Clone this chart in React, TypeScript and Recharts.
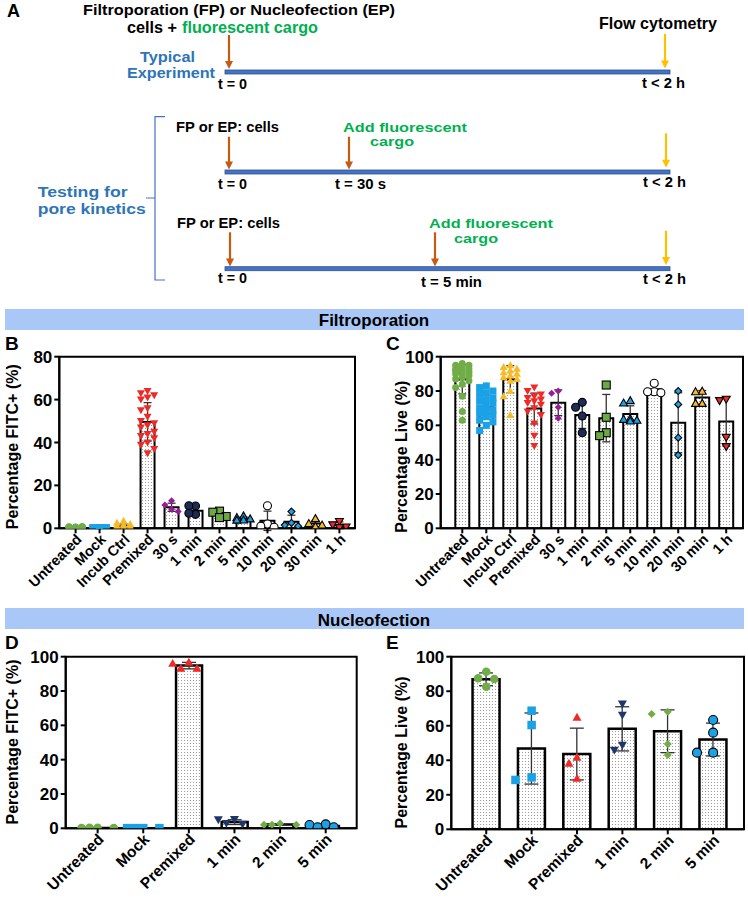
import React from 'react';
import { ComposedChart, Bar, Scatter, XAxis, YAxis, ErrorBar, ReferenceArea } from 'recharts';

const FONT = '"Liberation Sans", Arial, Helvetica, sans-serif';
const NARROW = '"Liberation Sans Narrow", "Liberation Sans", Arial, sans-serif';

// ---------- Filtroporation (panels B, C) ----------
const fpCategories = ['Untreated', 'Mock', 'Incub Ctrl', 'Premixed', '30 s', '1 min', '2 min', '5 min', '10 min', '20 min', '30 min', '1 h'];

const fpFitcMean = [0.4, 0.2, 1.1, 49.6, 9.8, 8.2, 6.5, 4.6, 3.5, 3.1, 2.2, 1.4];
const fpFitcSd = [0.3, 0.1, 0.9, 9.0, 1.9, 2.4, 1.6, 0.8, 4.5, 3.0, 1.4, 1.6];
const fpFitcPoints: number[][] = [
  [0.6, 0.4, 0.8, 0.3, 0.5, 0.2, 0.7, 0.4, 0.1, 0.6, 0.3, 0.5, 0.2, 0.4, 0.6, 0.3, 0.1, 0.5, 0.2, 0.4],
  [0.2, 0.1, 0.3, 0.2, 0.1, 0.2, 0.3, 0.1, 0.2, 0.1, 0.2, 0.3, 0.1, 0.2, 0.1, 0.2, 0.1, 0.3, 0.2, 0.1],
  [3.5, 2.6, 2.0, 1.6, 1.2, 1.0, 0.8, 0.6, 0.5, 0.4, 0.3, 0.3, 0.2],
  [64, 63, 62, 61, 60, 56, 55, 52, 50, 49, 48, 47, 45, 44, 43, 42, 40, 39, 37, 35],
  [12.8, 10.9, 8.9, 7.8],
  [10.4, 10.5, 6.5, 7.0],
  [8.0, 7.5, 5.5, 5.0],
  [5.8, 5.0, 4.4, 3.9, 3.8],
  [10.5, 2.0, 1.0, 0.5],
  [7.8, 2.5, 1.5, 1.0],
  [4.5, 2.2, 1.5, 0.8],
  [3.2, 1.6, 0.6, 0.3],
];

const fpLiveMean = [86.8, 70.5, 86.8, 69.8, 73.2, 66.0, 64.2, 66.6, 81.0, 61.5, 76.2, 62.2];
const fpLiveSd = [8.5, 7.0, 8.0, 9.0, 7.5, 7.8, 13.8, 4.8, 2.3, 17.5, 4.1, 14.3];
const fpLivePoints: number[][] = [
  [96, 95, 95, 94, 93, 93, 92, 92, 91, 90, 90, 89, 88, 87, 86, 84, 82, 77, 68, 63],
  [83, 82, 80, 79, 78, 76, 75, 74, 73, 71, 70, 69, 68, 67, 66, 65, 63, 62, 60, 57],
  [95, 94, 93, 92, 91, 90, 89, 88, 87, 86, 80, 77, 66],
  [82, 80, 78, 77, 76, 75, 74, 73, 72, 70, 68, 66, 61, 54, 48],
  [80.0, 78.7, 70.5, 64.1],
  [73.4, 70.5, 65.4, 55.7],
  [83.5, 64.7, 55.7, 54.0],
  [74.4, 73.0, 64.0, 63.5, 63.0, 62.5],
  [84.5, 79.6, 79.6, 79.0],
  [80.0, 72.2, 52.8, 42.7],
  [79.9, 79.6, 72.8, 72.8],
  [75.2, 74.4, 53.0, 47.6],
];

// ---------- Nucleofection (panels D, E) ----------
const nfCategories = ['Untreated', 'Mock', 'Premixed', '1 min', '2 min', '5 min'];

const nfFitcMean = [0.2, 0.1, 94.8, 3.6, 2.2, 1.4];
const nfFitcSd = [0.1, 0.05, 1.9, 1.4, 0.4, 0.9];
const nfFitcPoints: number[][] = [
  [0.3, 0.2, 0.2, 0.3],
  [0.1, 0.1, 0.1, 0.1],
  [96.7, 96.1, 93.2, 93.2],
  [5.2, 5.0, 2.9, 2.4],
  [2.8, 2.0, 2.0, 2.0],
  [2.3, 1.9, 0.6, 0.6],
];

const nfLiveMean = [86.9, 46.8, 43.6, 58.2, 56.8, 52.0];
const nfLiveSd = [3.7, 20.6, 15.0, 12.8, 12.4, 9.5];
const nfLivePoints: number[][] = [
  [91.3, 87.5, 87.1, 82.6],
  [68.7, 60.4, 30.1, 28.6],
  [64.9, 41.7, 38.2, 29.5],
  [72.6, 66.2, 48.8, 45.9],
  [68.1, 66.8, 49.4, 43.0],
  [63.3, 56.0, 44.4, 44.4],
];

type Shape = 'circle' | 'square' | 'triUp' | 'triDown' | 'diamond';
type MarkerSpec = { shape: Shape; fill: string; stroke?: string; size: number };

const GREEN = '#70ad47';
const BLUE = '#1ba1e6';
const YELLOW = '#f6bb2a';
const RED = '#ee2a27';
const NAVY = '#1c2c55';

const fpMarkers: MarkerSpec[] = [
  { shape: 'circle', fill: GREEN, size: 7 },
  { shape: 'square', fill: BLUE, size: 7 },
  { shape: 'triUp', fill: YELLOW, size: 8 },
  { shape: 'triDown', fill: RED, size: 8 },
  { shape: 'diamond', fill: '#981c98', size: 7 },
  { shape: 'circle', fill: NAVY, stroke: '#000', size: 8 },
  { shape: 'square', fill: '#6aa944', stroke: '#000', size: 8 },
  { shape: 'triUp', fill: BLUE, stroke: '#000', size: 8 },
  { shape: 'circle', fill: '#fff', stroke: '#000', size: 8 },
  { shape: 'diamond', fill: BLUE, stroke: '#000', size: 7 },
  { shape: 'triUp', fill: YELLOW, stroke: '#000', size: 8 },
  { shape: 'triDown', fill: RED, stroke: '#000', size: 8 },
];

const nfMarkers: MarkerSpec[] = [
  { shape: 'circle', fill: GREEN, size: 8.5 },
  { shape: 'square', fill: BLUE, size: 8.5 },
  { shape: 'triUp', fill: RED, size: 9 },
  { shape: 'triDown', fill: '#1f3768', size: 9 },
  { shape: 'diamond', fill: GREEN, size: 8 },
  { shape: 'circle', fill: BLUE, stroke: '#000', size: 9 },
];

function Marker({ cx, cy, spec }: { cx: number; cy: number; spec: MarkerSpec }) {
  if (cx == null || cy == null || isNaN(cx) || isNaN(cy)) return null;
  const s = spec.size;
  const h = s / 2;
  const common = {
    fill: spec.fill,
    stroke: spec.stroke ?? 'none',
    strokeWidth: spec.stroke ? 1.1 : 0,
  };
  switch (spec.shape) {
    case 'circle':
      return <circle cx={cx} cy={cy} r={h} {...common} />;
    case 'square':
      return <rect x={cx - h} y={cy - h} width={s} height={s} {...common} />;
    case 'triUp':
      return <polygon points={`${cx},${cy - h} ${cx + h},${cy + h * 0.75} ${cx - h},${cy + h * 0.75}`} {...common} />;
    case 'triDown':
      return <polygon points={`${cx},${cy + h} ${cx + h},${cy - h * 0.75} ${cx - h},${cy - h * 0.75}`} {...common} />;
    case 'diamond':
    default:
      return <polygon points={`${cx},${cy - h} ${cx + h},${cy} ${cx},${cy + h} ${cx - h},${cy}`} {...common} />;
  }
}

// beeswarm layout: horizontal offsets (in x-axis units) so markers do not overlap
function swarm(values: number[], pxY: number, pxX: number, diam: number, maxHalf: number): number[] {
  const placed: { x: number; y: number }[] = [];
  const step = diam * 0.95;
  const cands = [0];
  for (let k = 1; k * step <= maxHalf + 0.01; k++) cands.push(-k * step, k * step);
  return values.map((v) => {
    const y = v * pxY;
    let best = 0;
    let bestD = -1;
    for (const c of cands) {
      let minD = Infinity;
      for (const p of placed) {
        const d = Math.hypot(p.x - c, p.y - y);
        if (d < minD) minD = d;
      }
      if (minD >= diam) {
        best = c;
        break;
      }
      if (minD > bestD) {
        bestD = minD;
        best = c;
      }
    }
    placed.push({ x: best, y });
    return best / pxX;
  });
}

type PanelProps = {
  id: string;
  left: number;
  top: number;
  width: number;
  height: number;
  plotL: number;
  plotT: number;
  plotR: number;
  plotB: number;
  categories: string[];
  means: number[];
  sds: number[];
  points: number[][];
  markers: MarkerSpec[];
  yMax: number;
  yTicks: number[];
  xDomain: [number, number];
  barSize: number;
  barStroke: number;
  capWidth: number;
  labelFont: number;
  markerDiam: number;
  swarmHalf: number;
  labelDx: number;
  labelDy: number;
};

function Panel(p: PanelProps) {
  const yAxisW = 50;
  const xAxisH = 40;
  const margin = {
    left: p.plotL - p.left - yAxisW,
    top: p.plotT - p.top,
    right: p.left + p.width - p.plotR,
    bottom: p.top + p.height - p.plotB - xAxisH,
  };
  const pxY = (p.plotB - p.plotT) / p.yMax;
  const pxX = (p.plotR - p.plotL) / (p.xDomain[1] - p.xDomain[0]);
  const barData = p.categories.map((c, i) => ({ x: i, name: c, mean: p.means[i], sd: p.sds[i] }));
  const scatterData = p.points.map((vals, gi) => {
    const offs = swarm(vals, pxY, pxX, p.markerDiam, p.swarmHalf);
    return vals.map((v, j) => ({ x: gi + offs[j], y: v }));
  });
  const ticksX = p.categories.map((_, i) => i);
  const RotTick = (props: any) => {
    const { x, y, payload } = props;
    return (
      <text
        transform={`translate(${x + p.labelDx},${y + p.labelDy}) rotate(-45)`}
        textAnchor="end"
        fontSize={p.labelFont}
        fontWeight="bold"
        fontFamily={FONT}
        fill="#000"
      >
        {p.categories[payload.value]}
      </text>
    );
  };
  return (
    <div style={{ position: 'absolute', left: p.left, top: p.top, width: p.width, height: p.height }}>
      <ComposedChart width={p.width} height={p.height} data={barData} margin={margin}>
        <defs>
          <pattern id={`dots-${p.id}`} width="3" height="3" patternUnits="userSpaceOnUse">
            <rect width="3" height="3" fill="#ffffff" />
            <rect x="1" y="1" width="1" height="1" fill="#9c9c9c" />
          </pattern>
        </defs>
        <XAxis
          type="number"
          dataKey="x"
          domain={p.xDomain}
          ticks={ticksX}
          interval={0}
          allowDataOverflow
          height={xAxisH}
          axisLine={{ stroke: '#000', strokeWidth: 2 }}
          tickLine={{ stroke: '#000', strokeWidth: 2 }}
          tickSize={5}
          tick={RotTick}
        />
        <XAxis
          xAxisId="pts"
          type="number"
          dataKey="x"
          domain={p.xDomain}
          allowDataOverflow
          hide
          height={xAxisH}
        />
        <YAxis
          type="number"
          domain={[0, p.yMax]}
          ticks={p.yTicks}
          interval={0}
          allowDataOverflow
          width={yAxisW}
          axisLine={{ stroke: '#000', strokeWidth: 2 }}
          tickLine={{ stroke: '#000', strokeWidth: 2 }}
          tickSize={5}
          tickMargin={2}
          tick={{ fontSize: 17, fontWeight: 'bold', fill: '#000', fontFamily: FONT }}
        />
        <Bar
          dataKey="mean"
          barSize={p.barSize}
          fill={`url(#dots-${p.id})`}
          stroke="#000"
          strokeWidth={p.barStroke}
          isAnimationActive={false}
        >
          <ErrorBar dataKey="sd" width={p.capWidth} stroke="#333" strokeWidth={1.3} direction="y" />
        </Bar>
        {scatterData.map((d, gi) => (
          <Scatter
            key={gi}
            xAxisId="pts"
            data={d}
            dataKey="y"
            isAnimationActive={false}
            shape={(sp: any) => <Marker cx={sp.cx} cy={sp.cy} spec={p.markers[gi]} />}
          />
        ))}
        <ReferenceArea
          x1={p.xDomain[0]}
          x2={p.xDomain[1]}
          y1={0}
          y2={p.yMax}
          fill="none"
          fillOpacity={0}
          stroke="#000"
          strokeWidth={2}
          ifOverflow="visible"
        />
      </ComposedChart>
    </div>
  );
}

const BROWN = '#c55a11';
const GOLD = '#ffc000';
const TBLUE = '#2e75b6';
const TGREEN = '#00b050';

function Arrow({ x, y1, y2, color }: { x: number; y1: number; y2: number; color: string }) {
  return (
    <g>
      <line x1={x} y1={y1} x2={x} y2={y2 - 6} stroke={color} strokeWidth={2.2} />
      <polygon points={`${x - 4},${y2 - 8} ${x + 4},${y2 - 8} ${x},${y2}`} fill={color} />
    </g>
  );
}

function T({ x, y, w, size, color = '#000', children }: any) {
  return (
    <text
      x={x}
      y={y}
      fontSize={size}
      fontWeight="bold"
      fontFamily={NARROW}
      fill={color}
      textLength={w}
      lengthAdjust="spacingAndGlyphs"
    >
      {children}
    </text>
  );
}

function Timeline({ y }: { y: number }) {
  return <rect x={225} y={y} width={445} height={4} fill="#4472c4" stroke="#2f528f" strokeWidth={0.8} />;
}

function Overlay() {
  const bold = { fontWeight: 'bold' as const, fontFamily: FONT, fill: '#000' };
  return (
    <svg width={748} height={903} style={{ position: 'absolute', left: 0, top: 0 }}>
      {/* Panel A */}
      <text x={7} y={17} fontSize={18} {...bold}>A</text>
      <T x={83} y={15} w={312} size={15.5}>Filtroporation (FP) or Nucleofection (EP)</T>
      <text y={33} fontSize={16} fontWeight="bold" fontFamily={NARROW}>
        <tspan x={127} fill="#000" textLength={50} lengthAdjust="spacingAndGlyphs">cells +</tspan>
        <tspan x={182} fill={TGREEN} textLength={136} lengthAdjust="spacingAndGlyphs">fluorescent cargo</tspan>
      </text>
      <T x={599} y={28.5} w={118} size={16.5}>Flow cytometry</T>
      <T x={140} y={61.5} w={55} size={14} color={TBLUE}>Typical</T>
      <T x={127} y={77.5} w={88} size={14} color={TBLUE}>Experiment</T>
      <Timeline y={70} />
      <Arrow x={229} y1={35} y2={69} color={BROWN} />
      <Arrow x={665} y1={34} y2={68.5} color={GOLD} />
      <T x={218} y={88.5} w={29} size={15}>t = 0</T>
      <T x={642} y={87.5} w={43} size={15}>t &lt; 2 h</T>

      {/* bracket */}
      <path d="M165,116.7 L155,116.7 L155,198 L146,198 M155,198 L155,280 L165,280" fill="none" stroke="#4472c4" strokeWidth={1.2} />
      <T x={37.7} y={197} w={90} size={14.5} color={TBLUE}>Testing for</T>
      <T x={37.7} y={214} w={108} size={14.5} color={TBLUE}>pore kinetics</T>

      {/* row 2 */}
      <T x={176} y={131.7} w={103} size={15}>FP or EP: cells</T>
      <T x={343} y={131.5} w={124} size={13} color={TGREEN}>Add fluorescent</T>
      <T x={370} y={146} w={44} size={13} color={TGREEN}>cargo</T>
      <Timeline y={170} />
      <Arrow x={229} y1={136.7} y2={169.5} color={BROWN} />
      <Arrow x={349} y1={136.7} y2={169.5} color={BROWN} />
      <Arrow x={666} y1={133.3} y2={167.7} color={GOLD} />
      <T x={218} y={189.3} w={29} size={15}>t = 0</T>
      <T x={335} y={189.3} w={51} size={15}>t = 30 s</T>
      <T x={643} y={187.3} w={43} size={15}>t &lt; 2 h</T>

      {/* row 3 */}
      <T x={177} y={228.3} w={103} size={15}>FP or EP: cells</T>
      <T x={429} y={228} w={124} size={13} color={TGREEN}>Add fluorescent</T>
      <T x={454} y={242.5} w={44} size={13} color={TGREEN}>cargo</T>
      <Timeline y={266.7} />
      <Arrow x={230} y1={232.3} y2={266.5} color={BROWN} />
      <Arrow x={435} y1={232.3} y2={266.5} color={BROWN} />
      <Arrow x={666} y1={230.7} y2={265} color={GOLD} />
      <T x={218} y={283.3} w={29} size={15}>t = 0</T>
      <T x={421} y={287.3} w={61} size={15}>t = 5 min</T>
      <T x={643} y={284} w={43} size={15}>t &lt; 2 h</T>

      {/* section headers */}
      <rect x={5} y={309} width={739} height={21} fill="#a9c8f7" />
      <text x={374} y={326.3} fontSize={17} textAnchor="middle" {...bold}>Filtroporation</text>
      <rect x={5} y={608} width={739} height={21} fill="#a9c8f7" />
      <text x={374} y={625.5} fontSize={17} textAnchor="middle" {...bold}>Nucleofection</text>

      {/* panel letters */}
      <text x={5} y={350} fontSize={19} {...bold}>B</text>
      <text x={386} y={350} fontSize={19} {...bold}>C</text>
      <text x={5} y={648.5} fontSize={19} {...bold}>D</text>
      <text x={386} y={648.5} fontSize={19} {...bold}>E</text>

      {/* axis titles */}
      <text transform="translate(12.5,446.7) rotate(-90)" dy="0.35em" textAnchor="middle" fontSize={16} {...bold}>Percentage FITC+ (%)</text>
      <text transform="translate(401,456.7) rotate(-90)" dy="0.35em" textAnchor="middle" fontSize={16} {...bold}>Percentage Live (%)</text>
      <text transform="translate(12.8,742) rotate(-90)" dy="0.35em" textAnchor="middle" fontSize={16} {...bold}>Percentage FITC+ (%)</text>
      <text transform="translate(401,752.5) rotate(-90)" dy="0.35em" textAnchor="middle" fontSize={16} {...bold}>Percentage Live (%)</text>
    </svg>
  );
}

export default function App() {
  return (
    <div style={{ position: 'absolute', left: 0, top: 0, width: 748, height: 903, background: '#fff', overflow: 'hidden' }}>
      <Overlay />
      <Panel
        id="b"
        left={0} top={340} width={374} height={265}
        plotL={59.3} plotT={356.7} plotR={355} plotB={528.3}
        categories={fpCategories} means={fpFitcMean} sds={fpFitcSd} points={fpFitcPoints} markers={fpMarkers}
        yMax={80} yTicks={[0, 20, 40, 60, 80]} xDomain={[-0.68, 11.65]}
        barSize={14} barStroke={2} capWidth={4} labelFont={14.5} markerDiam={7} swarmHalf={9}
        labelDx={7} labelDy={5}
      />
      <Panel
        id="c"
        left={374} top={340} width={374} height={265}
        plotL={440.7} plotT={356.7} plotR={743} plotB={528.3}
        categories={fpCategories} means={fpLiveMean} sds={fpLiveSd} points={fpLivePoints} markers={fpMarkers}
        yMax={100} yTicks={[0, 20, 40, 60, 80, 100]} xDomain={[-0.9, 11.7]}
        barSize={14} barStroke={2} capWidth={4} labelFont={14.5} markerDiam={7} swarmHalf={9}
        labelDx={7} labelDy={5}
      />
      <Panel
        id="d"
        left={0} top={640} width={374} height={263}
        plotL={65.7} plotT={656.7} plotR={356.7} plotB={828.3}
        categories={nfCategories} means={nfFitcMean} sds={nfFitcSd} points={nfFitcPoints} markers={nfMarkers}
        yMax={100} yTicks={[0, 20, 40, 60, 80, 100]} xDomain={[-0.7, 5.68]}
        barSize={26} barStroke={2.5} capWidth={7} labelFont={15.5} markerDiam={8.5} swarmHalf={17}
        labelDx={7} labelDy={5}
      />
      <Panel
        id="e"
        left={374} top={640} width={374} height={263}
        plotL={451.3} plotT={656.7} plotR={744} plotB={829.3}
        categories={nfCategories} means={nfLiveMean} sds={nfLiveSd} points={nfLivePoints} markers={nfMarkers}
        yMax={100} yTicks={[0, 20, 40, 60, 80, 100]} xDomain={[-0.77, 5.68]}
        barSize={27} barStroke={2.5} capWidth={7} labelFont={15.5} markerDiam={8.5} swarmHalf={17}
        labelDx={7} labelDy={5}
      />
    </div>
  );
}
